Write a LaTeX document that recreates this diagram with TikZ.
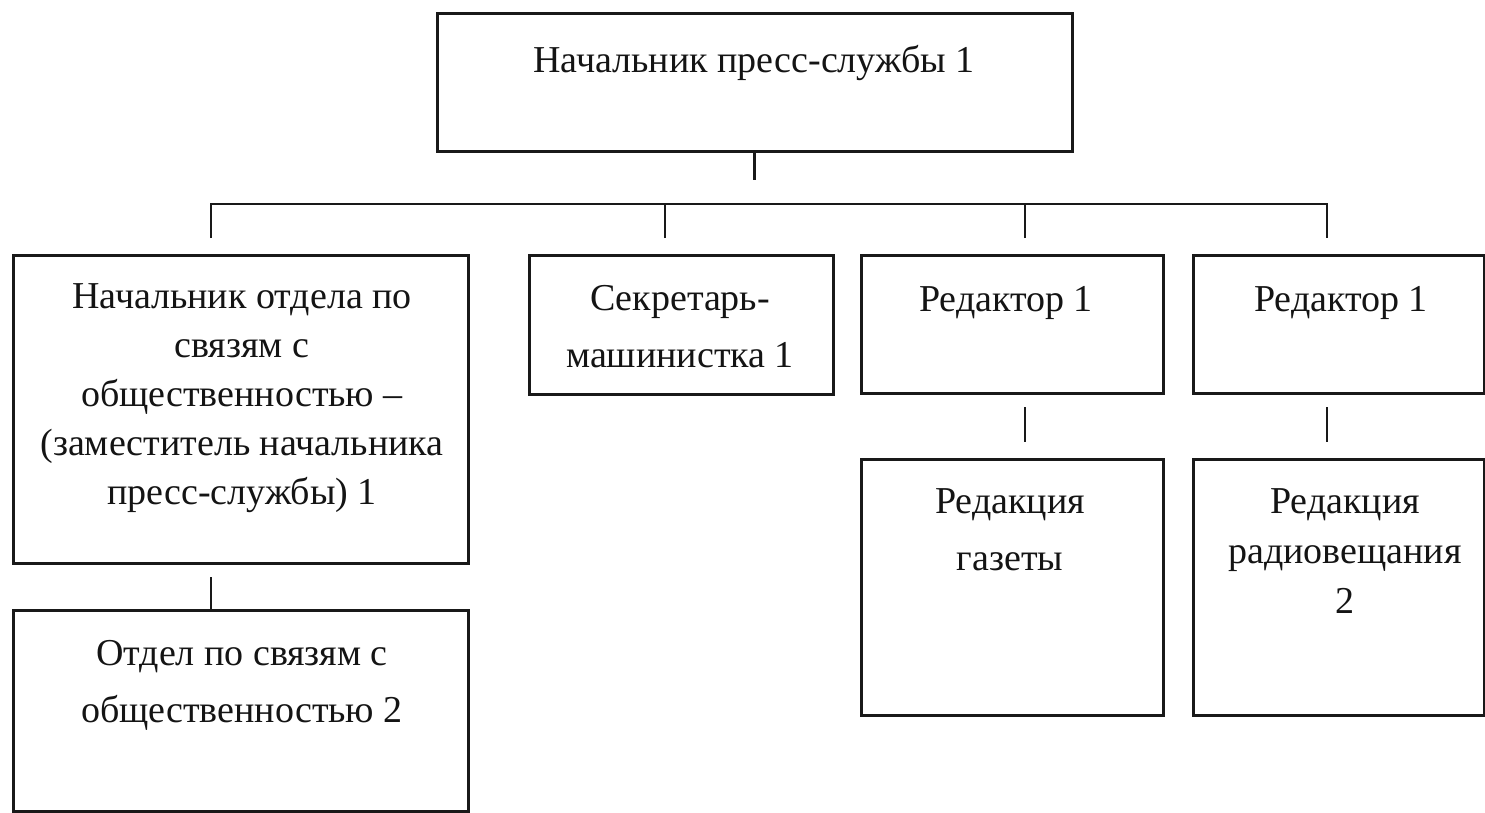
\documentclass[tikz,border=0pt]{standalone}
\usepackage{fontspec}
\setmainfont{Liberation Serif}
\newcommand\firstline{\rule{0pt}{27pt}}
\begin{document}
\begin{tikzpicture}[x=1pt,y=-1pt,
  box/.style={draw=black!90, line width=3pt, rectangle, inner sep=0pt, outer sep=0pt, anchor=north west},
  lbl/.style={inner sep=0pt, anchor=north, align=center, text=black!92, font=\fontsize{38}{49}\selectfont},
  link/.style={draw=black!90, line width=2.6pt}]
\useasboundingbox (0,0) rectangle (1485,813);
\fill[white] (0,0) rectangle (1485,813);
% boxes
\node[box, minimum width=635pt, minimum height=138pt] (top) at (437,14) {};
\node[box, minimum width=455pt, minimum height=308pt] (b1) at (13,255) {};
\node[box, minimum width=304pt, minimum height=139pt] (b2) at (529,255) {};
\node[box, minimum width=302pt, minimum height=138pt] (b3) at (861,255) {};
\node[box, minimum width=291pt, minimum height=138pt] (b4) at (1193,255) {};
\node[box, minimum width=455pt, minimum height=201pt] (b5) at (13,610) {};
\node[box, minimum width=302pt, minimum height=256pt] (b6) at (861,459) {};
\node[box, minimum width=291pt, minimum height=256pt] (b7) at (1193,459) {};
% texts
\node[lbl] (t0) at (754,45) {\firstline Начальник пресс-службы 1};
\node[lbl] (t1) at (242,281) {\firstline Начальник отдела по\\связям с\\общественностью –\\(заместитель начальника\\пресс-службы) 1};
\node[lbl, font=\fontsize{38}{57}\selectfont] (t2) at (680,283) {\firstline Секретарь-\\машинистка 1};
\node[lbl] (t3) at (1006,284) {\firstline Редактор 1};
\node[lbl] (t4) at (1341,284) {\firstline Редактор 1};
\node[lbl, font=\fontsize{38}{57}\selectfont] (t5) at (242,638) {\firstline Отдел по связям с\\общественностью 2};
\node[lbl, font=\fontsize{38}{57}\selectfont] (t6) at (1010,486) {\firstline Редакция\\газеты};
\node[lbl, font=\fontsize{38}{50}\selectfont] (t7) at (1345,486) {\firstline Редакция\\радиовещания\\2};
% connector coordinates
\coordinate (hub) at (754.5,180);
\coordinate (busL) at (211,204);
\coordinate (busR) at (1327,204);
\coordinate (d1) at (211,238);
\coordinate (d2) at (665,238);
\coordinate (d3) at (1025,238);
\coordinate (d4) at (1327,238);
\coordinate (s1) at (211,577);
\coordinate (s3) at (1025,407);
\coordinate (s3b) at (1025,442);
\coordinate (s4) at (1327,407);
\coordinate (s4b) at (1327,442);
% connectors
\draw[link] (top.south) -- (top.south |- hub);
\draw[link] (d1) -- (busL) -- (busR) -- (d4);
\draw[link] (d2) -- (d2 |- busL);
\draw[link] (d3) -- (d3 |- busL);
\draw[link] (s1) -- (s1 |- b5.north);
\draw[link] (s3) -- (s3b);
\draw[link] (s4) -- (s4b);
\end{tikzpicture}
\end{document}
